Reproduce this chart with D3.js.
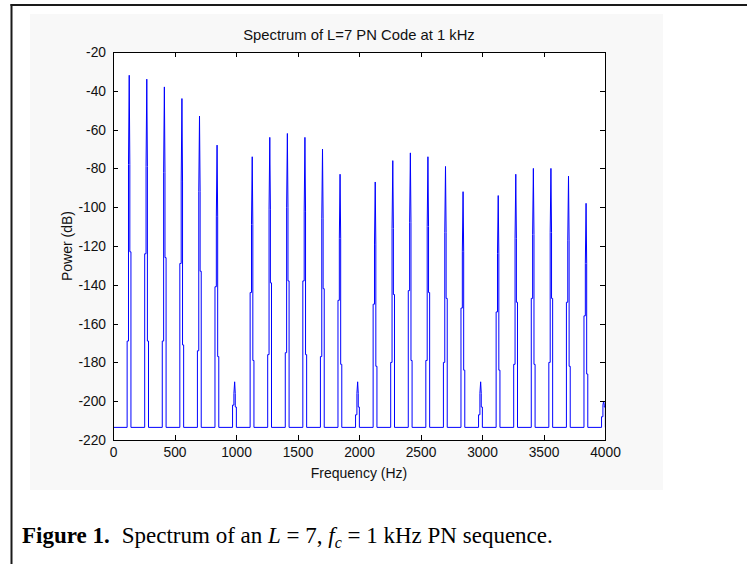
<!DOCTYPE html>
<html lang="en">
<head>
<meta charset="UTF-8">
<title>Spectrum of L=7 PN Code at 1 kHz</title>
<style>
  body, html {
    margin: 0;
    padding: 0;
    overflow: hidden;
    background: #fff;
  }
  .axis text { font-family: "Liberation Sans", Arial, sans-serif; font-size: 13.8px; fill: #111; }
  .axis path, .axis line { stroke: #000; shape-rendering: crispEdges; }
  .label { font-family: "Liberation Sans", Arial, sans-serif; font-size: 14px; fill: #111; }
  .caption { font-family: "Liberation Serif", "Times New Roman", serif; font-size: 23px; fill: #000; }
</style>
</head>
<body>
<div id="chart"></div>

<script src="https://d3js.org/d3.v7.min.js"></script>
<script>
// spectral lines of the L=7 code, one per harmonic of 1000/7 Hz
var lineFreqs = [142.9, 285.7, 428.6, 571.4, 714.3, 857.1, 1000.0, 1142.9, 1285.7, 1428.6,
                 1571.4, 1714.3, 1857.1, 2000.0, 2142.9, 2285.7, 2428.6, 2571.4, 2714.3, 2857.1,
                 3000.0, 3142.9, 3285.7, 3428.6, 3571.4, 3714.3, 3857.1, 4000.0];
// peak level (dB)
var peakDb   = [-32, -34, -38, -44, -53, -68, -190, -74, -64, -62,
                -64, -70, -83, -190, -87, -76, -72, -74, -79, -92,
                -190, -94, -83, -80, -80, -84, -98, -200];
// level of the inner bins beside the peak (dB)
var innerDb  = [-78, -79, -82, -87, -92, -105, -196, -109, -101, -100,
                -102, -106, -116, -196, -119, -111, -108, -110, -113, -123,
                -196, -124, -116, -114, -113, -117, -129, -202];
// leakage shoulders left / right of each line (dB)
var leftDb   = [-169, -124, -169, -129, -174, -141, -202, -144, -176, -175,
                -138, -177, -148, -207, -150, -180, -143, -179, -180, -152,
                -207, -154, -181, -147, -180, -149, -156, -208];
var rightDb  = [-123, -169, -126, -171, -133, -177, -203, -179, -139, -138,
                -176, -142, -181, -203, -182, -145, -179, -144, -147, -184,
                -203, -184, -149, -181, -147, -182, -186, -203];
// bin offsets (Hz) around each line: left edge, rise, peak, fall, right edge
var binOffsets = [-28, -17, -11, -6, 3];
var floorDb = -213.5;

var xTicks = [0, 500, 1000, 1500, 2000, 2500, 3000, 3500, 4000];
var yTicks = [-20, -40, -60, -80, -100, -120, -140, -160, -180, -200, -220];

var W = 747, H = 564;
var plot = { left: 113, right: 605, top: 52, bottom: 440 };

var svg = d3.select("#chart")
  .append("svg")
  .attr("width", W)
  .attr("height", H);

// figure background (light grey MATLAB figure)
svg.append("rect")
  .attr("x", 30).attr("y", 14)
  .attr("width", 633).attr("height", 476)
  .attr("fill", "#f8f8f8");

// page frame lines
svg.append("line")
  .attr("x1", 11.5).attr("y1", 4).attr("x2", 11.5).attr("y2", H)
  .attr("stroke", "#1a1a1a").attr("stroke-width", 2);
svg.append("line")
  .attr("x1", 10.5).attr("y1", 5).attr("x2", W).attr("y2", 5)
  .attr("stroke", "#1a1a1a").attr("stroke-width", 2);

var x = d3.scaleLinear().domain([0, 4000]).range([plot.left, plot.right]);
var y = d3.scaleLinear().domain([-220, -20]).range([plot.bottom, plot.top]);

// axes background
svg.append("rect")
  .attr("x", plot.left).attr("y", plot.top)
  .attr("width", plot.right - plot.left).attr("height", plot.bottom - plot.top)
  .attr("fill", "#fff");

svg.append("clipPath").attr("id", "clip")
  .append("rect")
  .attr("x", plot.left).attr("y", plot.top)
  .attr("width", plot.right - plot.left).attr("height", plot.bottom - plot.top);

// build spectrum trace
var pts = [[0, floorDb]];
lineFreqs.forEach(function(f, i) {
  var o = binOffsets;
  pts.push([f + o[0], floorDb], [f + o[0], leftDb[i]],
           [f + o[1], leftDb[i]], [f + o[1], innerDb[i]],
           [f + o[2], peakDb[i]],
           [f + o[3], innerDb[i]], [f + o[3], rightDb[i]],
           [f + o[4], rightDb[i]], [f + o[4], floorDb]);
});
pts.push([4000, floorDb]);

svg.append("path")
  .datum(pts)
  .attr("clip-path", "url(#clip)")
  .attr("fill", "none")
  .attr("stroke", "#0000ff")
  .attr("stroke-width", 1)
  .attr("d", d3.line().x(d => x(d[0])).y(d => y(d[1])));

// axes, MATLAB style ticks pointing inwards on all sides
var tk = 5;
svg.append("g").attr("class", "axis")
  .attr("transform", "translate(0," + plot.bottom + ")")
  .call(d3.axisBottom(x).tickValues(xTicks).tickSize(-tk).tickPadding(7).tickFormat(d3.format("d")));
svg.append("g").attr("class", "axis")
  .attr("transform", "translate(0," + plot.top + ")")
  .call(d3.axisTop(x).tickValues(xTicks).tickSize(-tk).tickFormat(""));
svg.append("g").attr("class", "axis")
  .attr("transform", "translate(" + plot.left + ",0)")
  .call(d3.axisLeft(y).tickValues(yTicks).tickSize(-tk).tickPadding(7).tickFormat(d => d3.format("d")(d).replace("\u2212", "-")));
svg.append("g").attr("class", "axis")
  .attr("transform", "translate(" + plot.right + ",0)")
  .call(d3.axisRight(y).tickValues(yTicks).tickSize(-tk).tickFormat(""));
svg.selectAll(".axis .domain").attr("d", null);
svg.append("rect")
  .attr("x", plot.left + 0.5).attr("y", plot.top + 0.5)
  .attr("width", plot.right - plot.left).attr("height", plot.bottom - plot.top)
  .attr("fill", "none").attr("stroke", "#000");

// titles
svg.append("text").attr("class", "label")
  .attr("x", (plot.left + plot.right) / 2).attr("y", 40)
  .attr("text-anchor", "middle")
  .style("font-size", "14.8px")
  .text("Spectrum of L=7 PN Code at 1 kHz");
svg.append("text").attr("class", "label")
  .attr("x", (plot.left + plot.right) / 2).attr("y", 478)
  .attr("text-anchor", "middle")
  .text("Frequency (Hz)");
svg.append("text").attr("class", "label")
  .attr("transform", "translate(72," + (plot.top + plot.bottom) / 2 + ") rotate(-90)")
  .attr("text-anchor", "middle")
  .text("Power (dB)");

// figure caption
var cap = svg.append("text").attr("class", "caption")
  .attr("x", 22).attr("y", 543);
cap.append("tspan").attr("font-weight", "bold").text("Figure 1.");
cap.append("tspan").attr("dx", 12).text("Spectrum of an ");
cap.append("tspan").attr("font-style", "italic").text("L");
cap.append("tspan").text(" = 7, ");
cap.append("tspan").attr("font-style", "italic").text("f");
cap.append("tspan").attr("font-style", "italic").attr("font-size", "16px").attr("dy", 5).text("c");
cap.append("tspan").attr("dy", -5).text(" = 1 kHz PN sequence.");
</script>
</body>
</html>
